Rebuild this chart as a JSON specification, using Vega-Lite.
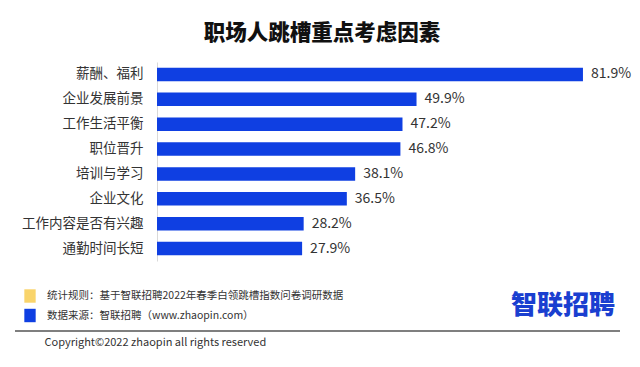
{
  "$schema": "https://vega.github.io/schema/vega-lite/v6.json",
  "width": 440,
  "height": 199,
  "autosize": {"type": "none"},
  "padding": {"left": 157, "top": 62, "right": 43, "bottom": 106},
  "background": "white",
  "config": {"view": {"stroke": null}},
  "title": {
    "text": "职场人跳槽重点考虑因素",
    "anchor": "middle",
    "dx": -55,
    "offset": 18,
    "fontSize": 21.5,
    "fontWeight": 900,
    "font": "Noto Sans CJK SC",
    "color": "#111111"
  },
  "data": {
    "values": [
      {"factor": "薪酬、福利", "share": 0.819, "note": "数据来源：智联招聘（www.zhaopin.com）"},
      {"factor": "企业发展前景", "share": 0.499, "note": "数据来源：智联招聘（www.zhaopin.com）"},
      {"factor": "工作生活平衡", "share": 0.472, "note": "数据来源：智联招聘（www.zhaopin.com）"},
      {"factor": "职位晋升", "share": 0.468, "note": "数据来源：智联招聘（www.zhaopin.com）"},
      {"factor": "培训与学习", "share": 0.381, "note": "数据来源：智联招聘（www.zhaopin.com）"},
      {"factor": "企业文化", "share": 0.365, "note": "数据来源：智联招聘（www.zhaopin.com）"},
      {"factor": "工作内容是否有兴趣", "share": 0.282, "note": "数据来源：智联招聘（www.zhaopin.com）"},
      {"factor": "通勤时间长短", "share": 0.279, "note": "数据来源：智联招聘（www.zhaopin.com）"}
    ]
  },
  "layer": [
    {
      "mark": {"type": "bar"},
      "encoding": {
        "y": {
          "field": "factor", "type": "nominal", "sort": null,
          "scale": {"paddingInner": 0.46, "paddingOuter": 0.23},
          "axis": {
            "title": null, "ticks": false, "domain": true, "domainColor": "#d9d9d9",
            "labelPadding": 14, "labelFontSize": 13.5, "labelColor": "#333333",
            "labelFont": "Noto Sans CJK SC", "grid": false, "labelLimit": 300
          }
        },
        "x": {
          "field": "share", "type": "quantitative",
          "scale": {"domain": [0, 0.846], "nice": false},
          "axis": {
            "title": "Copyright©2022 zhaopin all rights reserved",
            "labels": false, "ticks": false, "domain": false, "grid": false,
            "titleX": -113, "titleY": 81, "titleAlign": "left", "titleBaseline": "middle",
            "titleFontSize": 11, "titleFontWeight": "normal", "titleColor": "#333333",
            "titleFont": "Noto Sans CJK SC"
          }
        },
        "color": {
          "field": "note", "type": "nominal",
          "scale": {
            "domain": ["统计规则：基于智联招聘2022年春季白领跳槽指数问卷调研数据", "数据来源：智联招聘（www.zhaopin.com）"],
            "range": ["#F9D46B", "#0F3FE2"]
          },
          "legend": {
            "orient": "none", "legendX": -134, "legendY": 227, "direction": "vertical",
            "padding": 0,
            "title": "智联招聘", "titleOrient": "right", "titlePadding": 168,
            "titleFontSize": 26, "titleColor": "#1A3FD0", "titleFont": "Noto Sans CJK SC",
            "titleFontWeight": 900, "titleBaseline": "middle",
            "symbolType": "M-0.846,-1H0.846V1H-0.846Z", "symbolSize": 180,
            "symbolStrokeWidth": 0, "symbolOpacity": 1,
            "labelFontSize": 10.5, "labelColor": "#333333", "labelFont": "Noto Sans CJK SC",
            "labelLimit": 500, "labelOffset": 10, "rowPadding": 5.5
          }
        }
      }
    },
    {
      "mark": {"type": "text", "align": "left", "dx": 8, "fontSize": 14, "font": "Noto Sans CJK SC", "color": "#333333"},
      "encoding": {
        "y": {"field": "factor", "type": "nominal", "sort": null},
        "x": {"field": "share", "type": "quantitative"},
        "text": {"field": "share", "type": "quantitative", "format": ".1%"}
      }
    },
    {
      "data": {"values": [{"element": "separator"}]},
      "mark": {"type": "rule", "color": "#555555", "strokeWidth": 1.5},
      "encoding": {"x": {"value": -142}, "x2": {"value": 463}, "y": {"value": 269}}
    }
  ]
}
